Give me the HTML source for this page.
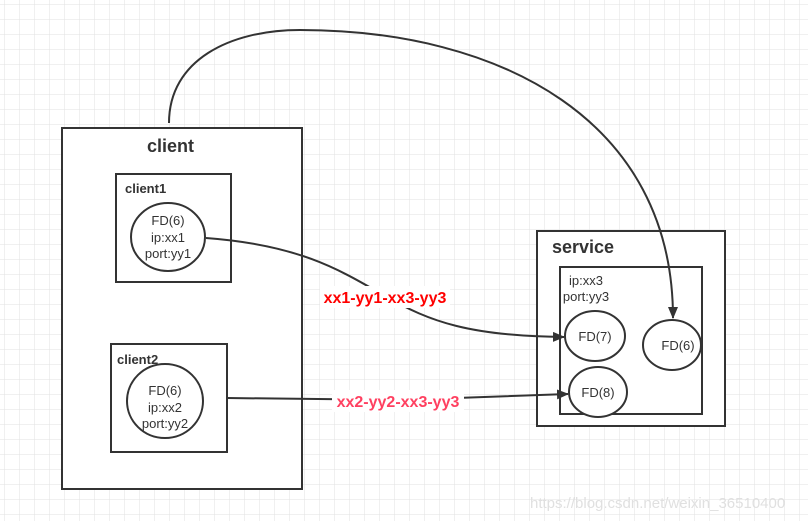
<!DOCTYPE html>
<html><head><meta charset="utf-8"><style>
body{margin:0;background:#fff}
svg{display:block}
text{font-family:"Liberation Sans","Noto Sans CJK SC",sans-serif}
</style></head><body>
<svg width="808" height="521" xmlns="http://www.w3.org/2000/svg">
<defs>
<pattern id="g" x="5" y="5" width="15" height="15" patternUnits="userSpaceOnUse">
<path d="M15 0V15M0 15H15" stroke="#e2e2e2" stroke-width="1" fill="none"/>
</pattern>
<marker id="a" markerWidth="12" markerHeight="10" refX="11" refY="5" orient="auto" markerUnits="userSpaceOnUse">
<path d="M0 0L12 5L0 10z" fill="#333"/>
</marker>
</defs>
<rect width="808" height="521" fill="url(#g)"/>
<g stroke="#333" stroke-width="2" fill="#fff">
<rect x="62" y="128" width="240" height="361"/>
<rect x="116" y="174" width="115" height="108"/>
<rect x="111" y="344" width="116" height="108"/>
<rect x="537" y="231" width="188" height="195"/>
<rect x="560" y="267" width="142" height="147"/>
<ellipse cx="168" cy="237" rx="37" ry="34"/>
<ellipse cx="165" cy="401" rx="38" ry="37"/>
<ellipse cx="595" cy="336" rx="30" ry="25"/>
<ellipse cx="672" cy="345" rx="29" ry="25"/>
<ellipse cx="598" cy="392" rx="29" ry="25"/>
</g>
<g stroke="#333" stroke-width="2" fill="none">
<path d="M169 123C169 60 230 30 300 30C500 30 673 120 673 318" marker-end="url(#a)"/>
<path d="M206 238C300 245 340 270 385 296C430 322 470 336 564 337" marker-end="url(#a)"/>
<path d="M227 398L400 400L568 394" marker-end="url(#a)"/>
</g>
<rect x="320" y="286" width="130" height="22" fill="#fff"/>
<rect x="332" y="390" width="132" height="22" fill="#fff"/>
<g fill="#333">
<text x="147" y="152" font-size="18" font-weight="bold">client</text>
<text x="125" y="193" font-size="13" font-weight="bold">client1</text>
<text x="117" y="364" font-size="13" font-weight="bold">client2</text>
<text x="552" y="253" font-size="18" font-weight="bold">service</text>
<g font-size="13" text-anchor="middle">
<text x="168" y="225">FD(6)</text>
<text x="168" y="242">ip:xx1</text>
<text x="168" y="258">port:yy1</text>
<text x="165" y="395">FD(6)</text>
<text x="165" y="412">ip:xx2</text>
<text x="165" y="428">port:yy2</text>
<text x="586" y="285">ip:xx3</text>
<text x="586" y="301">port:yy3</text>
<text x="595" y="341">FD(7)</text>
<text x="678" y="350">FD(6)</text>
<text x="598" y="397">FD(8)</text>
</g>
</g>
<text x="385" y="303" font-size="16" font-weight="bold" fill="#f00" text-anchor="middle">xx1-yy1-xx3-yy3</text>
<text x="398" y="407" font-size="16" font-weight="bold" fill="#ff4060" text-anchor="middle">xx2-yy2-xx3-yy3</text>
<text x="530" y="508" font-size="15" fill="#e0e0e0">https://blog.csdn.net/weixin_36510400</text>
</svg>
</body></html>
